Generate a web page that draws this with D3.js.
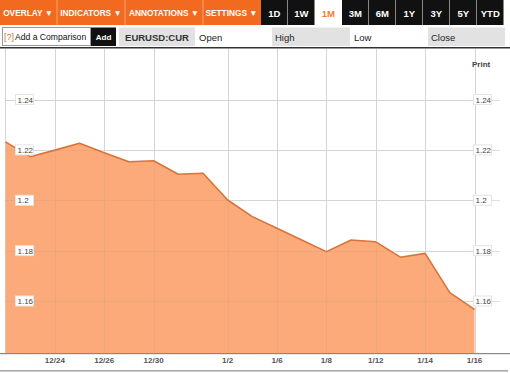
<!DOCTYPE html>
<html><head><meta charset="utf-8">
<script src="https://cdn.jsdelivr.net/npm/d3@7"></script>
<style>body{margin:0;background:#fff;}svg{display:block;font-family:Arial,"Liberation Sans",sans-serif;}</style>
</head><body><svg id="c" width="510" height="373"></svg>
<script>
const dates = ["12/22","12/23","12/24","12/25","12/26","12/29","12/30","12/31","1/1","1/2","1/5","1/6","1/7","1/8","1/9","1/12","1/13","1/14","1/15","1/16"];
const prices = [1.2232,1.2173,1.2199,1.2226,1.2189,1.2153,1.2157,1.2103,1.2107,1.2001,1.1935,1.1889,1.1842,1.1796,1.1842,1.1835,1.1774,1.1789,1.1633,1.1567];
const xTickLabels = ["12/24","12/26","12/30","1/2","1/6","1/8","1/12","1/14","1/16"];
const yTicks = [1.16,1.18,1.2,1.22,1.24];
const menuItems = ["OVERLAY \u25BC","INDICATORS \u25BC","ANNOTATIONS \u25BC","SETTINGS \u25BC"];
const ranges = ["1D","1W","1M","3M","6M","1Y","3Y","5Y","YTD"];
const activeRange = "1M";

const svg = d3.select("#c");

// top menu bar
const menuX = [0,58,126,204,261];
svg.append("rect").attr("x",0).attr("y",0).attr("width",261).attr("height",25).attr("fill","#f26a1f");
menuItems.forEach((m,i)=>{
  if(i>0) svg.append("rect").attr("x",menuX[i]-1.5).attr("y",0).attr("width",1).attr("height",25).attr("fill","#f9a26e");
  svg.append("text").attr("x",(menuX[i]+menuX[i+1]-2)/2).attr("y",16).attr("text-anchor","middle")
    .attr("fill","#fff").attr("font-size","8.3px").attr("font-weight","bold").text(m);
});
const rx0 = 261, rw = 26.5;
ranges.forEach((r,i)=>{
  const xx = rx0 + i*(rw+0.5);
  const act = r===activeRange;
  svg.append("rect").attr("x",xx).attr("y",0).attr("width",rw).attr("height",25).attr("fill",act?"#fff":"#111");
  svg.append("text").attr("x",xx+rw/2).attr("y",16.5).attr("text-anchor","middle")
    .attr("fill",act?"#f47b30":"#fff").attr("font-size","9.5px").attr("font-weight","bold").text(r);
});

// second row
svg.append("rect").attr("x",2.5).attr("y",27.5).attr("width",88).attr("height",18).attr("fill","#fff").attr("stroke","#999");
svg.append("text").attr("x",4).attr("y",40).attr("font-size","9px").attr("fill","#c27a35").text("[?]");
svg.append("text").attr("x",15).attr("y",40).attr("font-size","8.6px").attr("fill","#111").text("Add a Comparison");
svg.append("rect").attr("x",91).attr("y",27.5).attr("width",25).attr("height",18.5).attr("fill","#111");
svg.append("text").attr("x",103.5).attr("y",40).attr("text-anchor","middle").attr("font-size","8px").attr("font-weight","bold").attr("fill","#fff").text("Add");
svg.append("rect").attr("x",119).attr("y",27.5).attr("width",76).attr("height",18.5).attr("fill","#e2e2e2");
svg.append("text").attr("x",157).attr("y",40.5).attr("text-anchor","middle").attr("font-size","9.5px").attr("font-weight","bold").attr("fill","#333").text("EURUSD:CUR");
svg.append("text").attr("x",199).attr("y",40.5).attr("font-size","9.5px").attr("fill","#222").text("Open");
svg.append("rect").attr("x",272).attr("y",27.5).attr("width",78).attr("height",18.5).attr("fill","#e2e2e2");
svg.append("text").attr("x",275).attr("y",40.5).attr("font-size","9.5px").attr("fill","#222").text("High");
svg.append("text").attr("x",354).attr("y",40.5).attr("font-size","9.5px").attr("fill","#222").text("Low");
svg.append("rect").attr("x",428).attr("y",27.5).attr("width",77).attr("height",18.5).attr("fill","#e2e2e2");
svg.append("text").attr("x",431).attr("y",40.5).attr("font-size","9.5px").attr("fill","#222").text("Close");
svg.append("rect").attr("x",0).attr("y",47).attr("width",510).attr("height",1.5).attr("fill","#333");

// chart
const plotTop = 49, plotBottom = 353;
const x = d3.scalePoint().domain(dates).range([5.5,474.5]);
const y = d3.scaleLinear().domain([1.16,1.24]).range([301,99.5]);

const grid = svg.append("g");
grid.selectAll(".hg").data(yTicks).join("line")
  .attr("x1",5).attr("x2",500).attr("y1",d=>Math.round(y(d))+0.5).attr("y2",d=>Math.round(y(d))+0.5)
  .attr("stroke","#e0e0e0");
grid.selectAll(".vg").data(xTickLabels).join("line")
  .attr("x1",d=>Math.round(x(d))+0.5).attr("x2",d=>Math.round(x(d))+0.5).attr("y1",plotTop).attr("y2",plotBottom)
  .attr("stroke","#e0e0e0");
svg.append("line").attr("x1",5.5).attr("x2",5.5).attr("y1",plotTop).attr("y2",plotBottom).attr("stroke","#d4d4d4");

const area = d3.area().x((d,i)=>x(dates[i])).y0(plotBottom).y1(d=>y(d));
const line = d3.line().x((d,i)=>x(dates[i])).y(d=>y(d));
svg.append("path").datum(prices).attr("d",area).attr("fill","#fcaa79");
svg.append("path").datum(prices).attr("d",line).attr("fill","none").attr("stroke","#fff").attr("stroke-opacity",0.7).attr("stroke-width",1).attr("transform","translate(0,-1.5)");
svg.append("path").datum(prices).attr("d",line).attr("fill","none").attr("stroke","#d9733a").attr("stroke-width",1.6).attr("stroke-linejoin","round");

// faint grid over fill
const g2 = svg.append("g").attr("opacity",0.15);
g2.selectAll("line.h").data(yTicks).join("line")
  .attr("x1",5).attr("x2",475).attr("y1",d=>Math.round(y(d))+0.5).attr("y2",d=>Math.round(y(d))+0.5).attr("stroke","#999");
g2.selectAll("line.v").data(xTickLabels).join("line")
  .attr("x1",d=>Math.round(x(d))+0.5).attr("x2",d=>Math.round(x(d))+0.5).attr("y1",plotTop).attr("y2",plotBottom).attr("stroke","#999");

// y labels both sides
const fmt = d=>String(+d.toFixed(2));
[[15,18],[473,18]].forEach(([bx,bw])=>{
  const gl = svg.append("g");
  gl.selectAll("rect").data(yTicks).join("rect")
    .attr("x",bx+0.5).attr("y",d=>y(d)-5).attr("width",bw).attr("height",10)
    .attr("fill","#fff").attr("stroke","#e4e4e4");
  gl.selectAll("text").data(yTicks).join("text")
    .attr("x",bx+2.5).attr("y",d=>y(d)+3).attr("font-size","8px").attr("fill","#444").text(fmt);
});
svg.append("text").attr("x",472).attr("y",67).attr("font-size","8px").attr("font-weight","bold").attr("fill","#444").text("Print");

// x axis
svg.append("rect").attr("x",0).attr("y",353).attr("width",510).attr("height",1.2).attr("fill","#888");
svg.append("g").selectAll("text").data(xTickLabels).join("text")
  .attr("x",d=>x(d)).attr("y",363).attr("text-anchor","middle").attr("font-size","8px").attr("font-weight","bold").attr("fill","#555").text(d=>d);
svg.append("rect").attr("x",0).attr("y",370).attr("width",508).attr("height",1.6).attr("fill","#aaa");
</script></body></html>
